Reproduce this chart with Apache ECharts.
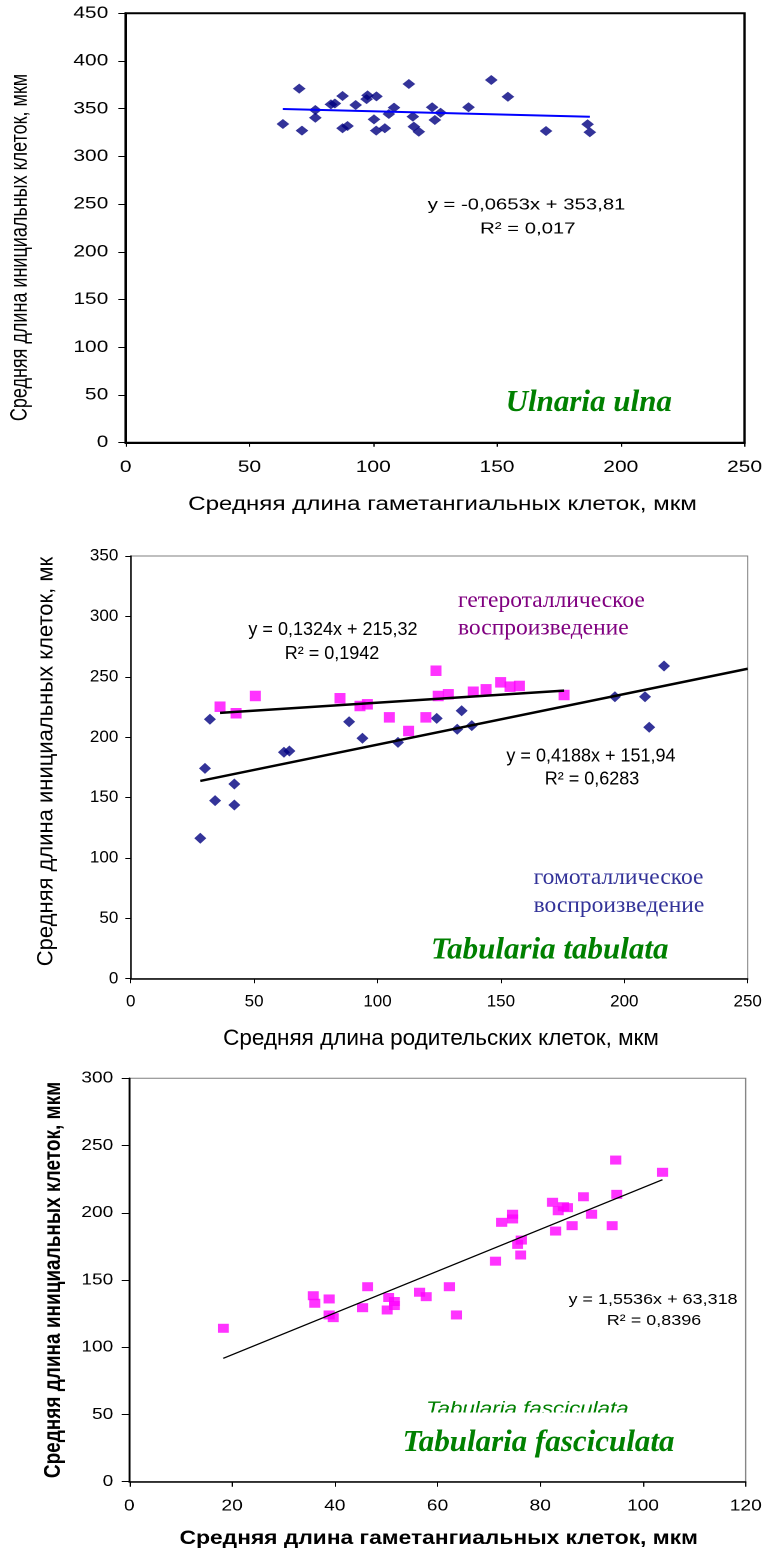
<!DOCTYPE html>
<html>
<head>
<meta charset="utf-8">
<script src="https://cdn.jsdelivr.net/npm/echarts/dist/echarts.min.js"></script>
<style>
  html, body { margin: 0; padding: 0; background: #fff; width: 766px; height: 1550px; overflow: hidden; }
  .panel { position: absolute; left: 0; transform-origin: 0 0; }
</style>
</head>
<body>
<div id="c1" class="panel"></div>
<div id="c2" class="panel"></div>
<div id="c3" class="panel"></div>
<script>
// ---------- Ulnaria ulna ----------
const ulnaX = [63.5, 70.1, 71.2, 76.6, 76.6, 82.9, 84.5, 87.6, 87.6, 89.6, 92.9, 97.3, 97.7, 101.3, 100.3, 101.2,
               104.7, 106.3, 108.4, 114.4, 116.0, 116.4, 118.4, 123.8, 124.9, 127.2, 138.5, 147.7, 154.4, 169.8, 186.6, 187.5];
const ulnaY = [334.0, 371.0, 327.0, 348.7, 340.6, 354.6, 355.5, 363.3, 329.5, 331.9, 353.9, 360.0, 364.0, 363.0, 338.9, 327.0,
               329.5, 344.5, 351.1, 375.9, 341.7, 331.2, 325.9, 351.5, 338.2, 345.8, 351.5, 380.1, 362.6, 326.7, 333.7, 325.3];
const ulnaXTicks = [0, 50, 100, 150, 200, 250];
const ulnaYTicks = [0, 50, 100, 150, 200, 250, 300, 350, 400, 450];
const ulnaFit = { slope: -0.0653, intercept: 353.81, r2: '0,017' };

// ---------- Tabularia tabulata ----------
const tabHomoX = [28.2, 30.1, 32.1, 34.2, 42.0, 42.0, 62.1, 64.3, 88.5, 93.9, 108.3, 124.0, 132.3, 134.1, 138.2, 196.2, 208.4, 210.1, 216.1];
const tabHomoY = [116.3, 174.2, 214.8, 147.4, 161.2, 143.8, 187.5, 188.5, 212.8, 199.1, 195.7, 215.6, 206.5, 221.9, 209.5, 233.5, 233.5, 208.2, 258.9];
const tabHeteroX = [36.2, 42.7, 50.5, 84.8, 92.9, 95.9, 104.8, 112.6, 119.6, 123.7, 124.6, 128.7, 138.8, 144.0, 149.9, 153.7, 157.5, 175.6];
const tabHeteroY = [225.2, 219.8, 234.1, 232.2, 225.8, 227.2, 216.4, 205.1, 216.4, 255.0, 234.1, 235.5, 237.6, 239.6, 245.4, 241.8, 242.4, 234.9];
const tabXTicks = [0, 50, 100, 150, 200, 250];
const tabYTicks = [0, 50, 100, 150, 200, 250, 300, 350];
const tabHomoFit = { slope: 0.4188, intercept: 151.94, r2: '0,6283' };
const tabHeteroFit = { slope: 0.1324, intercept: 215.32, r2: '0,1942' };

// ---------- Tabularia fasciculata ----------
const fascX = [18.3, 35.8, 36.1, 38.9, 38.9, 39.7, 45.4, 46.4, 50.2, 50.5, 51.6, 51.6, 56.5, 57.8, 62.3, 63.7, 71.3, 72.5,
               74.6, 74.6, 75.6, 76.2, 76.3, 82.4, 83.0, 83.5, 84.5, 85.3, 86.2, 88.4, 90.0, 94.0, 94.7, 94.9, 103.8];
const fascY = [114.1, 138.3, 132.7, 135.9, 124.0, 122.0, 129.4, 145.0, 127.7, 137.0, 134.0, 131.0, 140.9, 137.6, 145.0, 124.0, 164.0, 192.9,
               198.9, 195.4, 176.5, 168.6, 179.7, 207.8, 186.4, 201.5, 204.5, 203.8, 190.4, 211.9, 198.9, 190.4, 239.2, 213.7, 230.1];
const fascXTicks = [0, 20, 40, 60, 80, 100, 120];
const fascYTicks = [0, 50, 100, 150, 200, 250, 300];
const fascFit = { slope: 1.5536, intercept: 63.318, r2: '0,8396' };

// ---------- helpers ----------
const SANS = '"Liberation Sans", Arial, sans-serif';
const SERIF = '"Liberation Serif", "Times New Roman", serif';
const TITLE_Y = 'Средняя длина инициальных клеток, мкм';

const dec = v => String(v).replace('.', ',');
const eqText = f => 'y = ' + (f.slope < 0 ? '-' + dec(-f.slope) : dec(f.slope)) + 'x + ' + dec(f.intercept);
const r2Text = f => 'R\u00B2 = ' + f.r2;
const pairs = (xs, ys) => xs.map((x, i) => [x, ys[i]]);
const fitLine = (f, x0, x1) => [[x0, f.slope * x0 + f.intercept], [x1, f.slope * x1 + f.intercept]];

function axis(ticks, o) {
  return {
    type: 'value',
    min: ticks[0], max: ticks[ticks.length - 1], interval: ticks[1] - ticks[0],
    splitLine: { show: false },
    axisLine: { show: true, onZero: false, lineStyle: { color: '#000', width: o.line } },
    axisTick: { show: true, inside: false, length: o.tick, lineStyle: { color: '#000', width: 1 } },
    axisLabel: {
      show: true, margin: o.margin, color: '#000', fontSize: o.font, fontFamily: SANS,
      showMinLabel: true, showMaxLabel: true, hideOverlap: false,
      formatter: v => String(v)
    }
  };
}

function txt(x, y, text, o) {
  const font = [o.style || 'normal', o.weight || 'normal', o.size + 'px', o.family || SANS].join(' ');
  return {
    type: 'text', x: x, y: y, rotation: o.rot || 0, scaleX: o.sx || 1, z: o.z || 10,
    style: {
      text: text, fill: o.color || '#000', font: font,
      textAlign: o.align || 'center', align: o.align || 'center',
      textVerticalAlign: o.va || 'middle', verticalAlign: o.va || 'middle'
    }
  };
}

function scatter(data, symbol, size, color) {
  return { type: 'scatter', data: data, symbol: symbol, symbolSize: size, itemStyle: { color: color }, z: 2, silent: true };
}
function trend(data, color, width) {
  return { type: 'line', data: data, symbol: 'none', lineStyle: { color: color, width: width }, z: 5, silent: true };
}

function mount(id, top, height, sx) {
  const el = document.getElementById(id);
  el.style.top = top + 'px';
  el.style.height = height + 'px';
  el.style.width = (766 / sx) + 'px';
  if (sx !== 1) el.style.transform = 'scaleX(' + sx + ')';
  return echarts.init(el, null, { renderer: 'canvas', devicePixelRatio: 2 });
}

// ---------- panel 1: Ulnaria ulna (horizontally widened artwork) ----------
const S1 = 1.27;
const ch1 = mount('c1', 0, 520, S1);
ch1.setOption({
  animation: false,
  backgroundColor: '#fff',
  grid: { left: 125.7 / S1, top: 13.3, width: (747 - 125.7) / S1, height: 429.4,
          show: true, borderColor: '#000', borderWidth: 2, backgroundColor: 'transparent' },
  xAxis: axis(ulnaXTicks, { line: 2, tick: 4, margin: 16.5, font: 16.5 }),
  yAxis: axis(ulnaYTicks, { line: 2, tick: 5.8, margin: 13.7, font: 16.5 }),
  series: [
    scatter(pairs(ulnaX, ulnaY), 'diamond', [10, 10], '#000080'),
    trend(fitLine(ulnaFit, Math.min(...ulnaX), Math.max(...ulnaX)), '#0000FF', 2)
  ],
  graphic: [
    txt(20.6 / S1, 247.5, TITLE_Y, { size: 18, rot: Math.PI / 2 }),
    txt(442.5 / S1, 505, 'Средняя длина гаметангиальных клеток, мкм', { size: 19 }),
    txt(526.5 / S1, 205, eqText(ulnaFit), { size: 16 }),
    txt(527.8 / S1, 229.3, r2Text(ulnaFit), { size: 16 }),
    txt(505.6 / S1, 403, 'Ulnaria ulna', { size: 31, family: SERIF, weight: 'bold', style: 'italic',
      color: '#008000', align: 'left', sx: 1 / S1 })
  ]
});

// ---------- panel 2: Tabularia tabulata ----------
const OFF2 = 520;
const ch2 = mount('c2', OFF2, 530, 1);
ch2.setOption({
  animation: false,
  backgroundColor: '#fff',
  grid: { left: 130.7, top: 556 - OFF2, width: 617, height: 422.7,
          show: true, borderColor: '#808080', borderWidth: 1, backgroundColor: 'transparent' },
  xAxis: axis(tabXTicks, { line: 1.5, tick: 4.5, margin: 14.5, font: 17 }),
  yAxis: axis(tabYTicks, { line: 1.5, tick: 5.4, margin: 12.4, font: 17 }),
  series: [
    scatter(pairs(tabHomoX, tabHomoY), 'diamond', [12, 11], '#000080'),
    scatter(pairs(tabHeteroX, tabHeteroY), 'rect', [11, 10.5], '#FF00FF'),
    trend(fitLine(tabHeteroFit, Math.min(...tabHeteroX), Math.max(...tabHeteroX)), '#000', 2.5),
    trend(fitLine(tabHomoFit, Math.min(...tabHomoX), tabXTicks[tabXTicks.length - 1]), '#000', 2.5)
  ],
  graphic: [
    txt(46.6, 234, TITLE_Y, { size: 22, rot: Math.PI / 2, z: 10 }),
    // the axis title runs past the top of the plot frame and is cut there
    { type: 'rect', shape: { x: 0, y: 0, width: 80, height: 556 - OFF2 }, style: { fill: '#fff' }, z: 20 },
    txt(441, 1038.8 - OFF2, 'Средняя длина родительских клеток, мкм', { size: 22.5 }),
    txt(333, 630 - OFF2, eqText(tabHeteroFit), { size: 18 }),
    txt(332, 654 - OFF2, r2Text(tabHeteroFit), { size: 18 }),
    txt(591, 756.7 - OFF2, eqText(tabHomoFit), { size: 18 }),
    txt(592, 779.3 - OFF2, r2Text(tabHomoFit), { size: 18 }),
    txt(458, 600.7 - OFF2, 'гетероталлическое', { size: 23.5, family: SERIF, color: '#800080', align: 'left' }),
    txt(458, 628.3 - OFF2, 'воспроизведение', { size: 23.5, family: SERIF, color: '#800080', align: 'left' }),
    txt(533.6, 877.7 - OFF2, 'гомоталлическое', { size: 23.5, family: SERIF, color: '#333399', align: 'left' }),
    txt(533.6, 905.7 - OFF2, 'воспроизведение', { size: 23.5, family: SERIF, color: '#333399', align: 'left' }),
    txt(431, 950.5 - OFF2, 'Tabularia tabulata', { size: 31, family: SERIF, weight: 'bold', style: 'italic',
      color: '#008000', align: 'left' })
  ]
});

// ---------- panel 3: Tabularia fasciculata (horizontally widened artwork) ----------
const S3 = 1.2;
const OFF3 = 1050;
const ch3 = mount('c3', OFF3, 500, S3);
ch3.setOption({
  animation: false,
  backgroundColor: '#fff',
  grid: { left: 129.3 / S3, top: 1078.3 - OFF3, width: (745.7 - 129.3) / S3, height: 403.4,
          show: true, borderColor: '#808080', borderWidth: 1, backgroundColor: 'transparent' },
  xAxis: axis(fascXTicks, { line: 1.5, tick: 5, margin: 16.2, font: 16 }),
  yAxis: axis(fascYTicks, { line: 1.5, tick: 6.4, margin: 13.3, font: 16 }),
  series: [
    scatter(pairs(fascX, fascY), 'rect', [9.2, 9], '#FF00FF'),
    trend(fitLine(fascFit, Math.min(...fascX), Math.max(...fascX)), '#000', 1.2)
  ],
  graphic: [
    txt(53.5 / S3, 1280 - OFF3, TITLE_Y, { size: 19, weight: 'bold', rot: Math.PI / 2 }),
    txt(438.7 / S3, 1539 - OFF3, 'Средняя длина гаметангиальных клеток, мкм', { size: 19, weight: 'bold' }),
    txt(653 / S3, 1299.7 - OFF3, eqText(fascFit), { size: 15 }),
    txt(654 / S3, 1320.9 - OFF3, r2Text(fascFit), { size: 15 }),
    txt(426 / S3, 1400 - OFF3, 'Tabularia fasciculata', { size: 18.6, style: 'italic', color: '#008000',
      align: 'left', va: 'top', z: 10 }),
    // the small caption box is cut off just below its cap line
    { type: 'rect', shape: { x: 415 / S3, y: 1412.5 - OFF3, width: 235 / S3, height: 10 }, style: { fill: '#fff' }, z: 20 },
    txt(402.6 / S3, 1443 - OFF3, 'Tabularia fasciculata', { size: 31, family: SERIF, weight: 'bold', style: 'italic',
      color: '#008000', align: 'left', sx: 1 / S3, z: 30 })
  ]
});
</script>
</body>
</html>
